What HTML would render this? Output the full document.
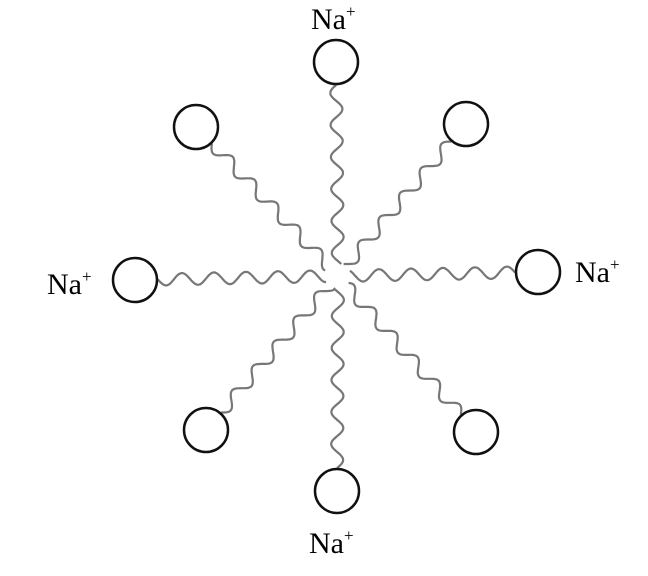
<!DOCTYPE html>
<html><head><style>
body{margin:0;background:#fff;width:648px;height:576px;overflow:hidden}
svg{display:block}
text{font-family:"Liberation Serif",serif;font-size:30px;fill:#000}
</style></head><body>
<svg id="s" width="648" height="576" viewBox="0 0 648 576">
<text x="311" y="29">Na<tspan dy="-12" font-size="17">+</tspan></text>
<text x="47" y="294">Na<tspan dy="-12" font-size="17">+</tspan></text>
<text x="575" y="282">Na<tspan dy="-12" font-size="17">+</tspan></text>
<text x="309" y="553">Na<tspan dy="-12" font-size="17">+</tspan></text>
</svg>
<script>
var s=document.getElementById('s'),cx=338,cy=276;
var c=[[336,62],[196,127],[466,124],[135,280],[538,272],[206,430],[476,432],[337,491]];
c.forEach(function(p){
 var dx=cx-p[0],dy=cy-p[1],L=Math.sqrt(dx*dx+dy*dy),ux=dx/L,uy=dy/L,nx=-uy,ny=ux;
 var start=23,end=L-12,d='';
 for(var t=start;t<=end;t+=1){
  var a=6*Math.sin((t-start)*2*Math.PI/32);
  var x=p[0]+ux*t+nx*a,y=p[1]+uy*t+ny*a;
  d+=(d?'L':'M')+x.toFixed(1)+' '+y.toFixed(1);
 }
 var pa=document.createElementNS('http://www.w3.org/2000/svg','path');
 pa.setAttribute('d',d);pa.setAttribute('fill','none');pa.setAttribute('stroke','#777');pa.setAttribute('stroke-width','2.2');
 s.appendChild(pa);
 var ci=document.createElementNS('http://www.w3.org/2000/svg','circle');
 ci.setAttribute('cx',p[0]);ci.setAttribute('cy',p[1]);ci.setAttribute('r',22);
 ci.setAttribute('fill','#fff');ci.setAttribute('stroke','#111');ci.setAttribute('stroke-width','2.5');
 s.appendChild(ci);
});
</script>
</body></html>
